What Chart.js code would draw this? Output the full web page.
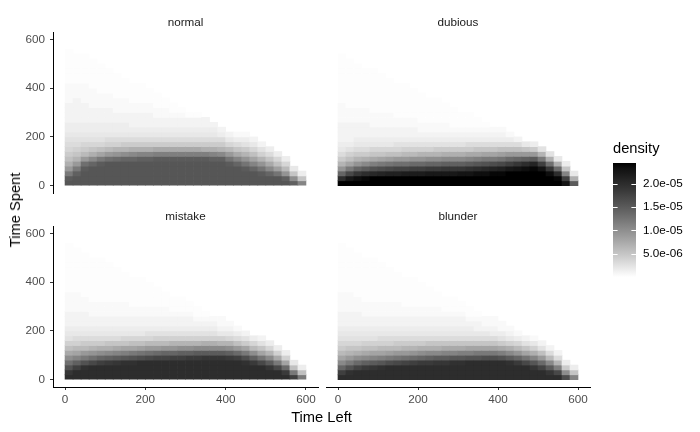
<!DOCTYPE html>
<html>
<head>
<meta charset="utf-8">
<script src="https://cdn.jsdelivr.net/npm/chart.js"></script>
<style>
    body { margin: 0; background: #fff; }
    #wrap { position: relative; width: 700px; height: 432px; overflow: hidden; font-family: "Liberation Sans", Arial, sans-serif; }
    #wrap canvas { position: absolute; left: 0; top: 0; }
    .lbl { position: absolute; white-space: nowrap; transform: translate(-50%, -50%); }
    .strip { font-size: 11.7px; color: #1a1a1a; }
    .title { font-size: 14.7px; color: #000; }
</style>
</head>
<body>
<div id="wrap"></div>
<script>
// facets and bins (seconds)
const facetNames = ['normal', 'dubious', 'mistake', 'blunder'];
const timeLeftBins = [10, 30, 50, 70, 90, 110, 130, 150, 170, 190, 210, 230, 250, 270, 290,
    310, 330, 350, 370, 390, 410, 430, 450, 470, 490, 510, 530, 550, 570, 590];
const timeSpentBins = [10, 30, 50, 70, 90, 110, 130, 150, 170, 190, 210, 230, 250, 270, 290, 310,
    330, 350, 370, 390, 410, 430, 450, 470, 490, 510, 530, 550, 570, 590, 610];
const binWidth = 20;
const xTicks = [0, 200, 400, 600];
const yTicks = [0, 200, 400, 600];
const legendTicks = [5e-6, 1e-5, 1.5e-5, 2e-5];

// density levels: one string per time-left bin, one char per time-spent bin (bottom up)
// char index in levelChars x densityStep = density, '-' = trace level
const levelChars = '0123456789abcdefghijklmnopqrstuvwxyzABCDEFGHIJKLMNOP';
const densityStep = 0.5e-6;
const traceChar = '-';
const traceLevel = 0.4;

const normalCols = [
    'vuoieb976543322221111-------', 'vvtoida86543322222111------', 'vvvuqic97543322221111------',
    'vvvvslea754332221111------', 'vvvvuogb75433222111------', 'vvvvvqic86433222111-----',
    'vvvvvrjd8643322111-----', 'vvvvvskd9643322111----', 'vvvvvsle964322211----',
    'vvvvvtme964322211----', 'vvvvvtme964322211---', 'vvvvvunf96432211---',
    'vvvvvunf96432211--', 'vvvvvunf9643221--', 'vvvvvunf9643221-',
    'vvvvvunf964322-', 'vvvvvunf964322-', 'vvvvvune964322',
    'vvvvvtme96432', 'vvvvvtld9632', 'vvvvupic742',
    'vvvvsmfa631', 'vvvupjd9531', 'vvvsmgb742',
    'vvupjd852', 'vvslfa63', 'vvphb73',
    'vtjc73', 'tka4', 'ma3'
];
const dubiousCols = [
    'NEsjd964322221111----------', 'NJyogb8532222111----------', 'NLCsjd9643222111---------',
    'NMEule9643222111--------', 'NNFwnfa74322111---------', 'NNGxoga74322111--------',
    'NNHyphb74322111-------', 'NNHzqib7532211-------', 'NNIzqic8532211-------',
    'NNIArjc8532211------', 'NNIArjd853211------', 'NNJBskd853211-----',
    'NNJBskd953211-----', 'NNJCtle953211----', 'NNJCtle95321----',
    'NNKCtle95321---', 'NNKDumf96321---', 'NNLEvnfa6321--',
    'NNLFwoga6321-', 'NNMGxoga6321', 'NNMHyphb6321',
    'NNNJArib631', 'NNNKCsib62', 'NNNLEtia4',
    'NNNMGui93', 'NNNKAod5', 'NNLCqe5',
    'NMEre4', 'KAma3', 'ue4'
];
const mistakeCols = [
    'ECwqkfb85432221111----------', 'EEAtmgc86432221111---------', 'EEDwoic9643222111---------',
    'EEEyqjd964322111---------', 'EEEAske964322111---------', 'EEEBtlea64322111--------',
    'EEECumfa64322111-------', 'EEEDvnga74322111------', 'EEEDwogb7432211------',
    'EEEExphb7432211------', 'EEEEyqic7532211-----', 'EEEEzric8532211----',
    'EEEEzsjc8532211---', 'EEEEAsjd853221---', 'EEEEAtkd853221---',
    'EEEEBtkd853221--', 'EEEEBuld85321--', 'EEEECule85321-',
    'EEEECule85321', 'EEEECuld84211', 'EEEEBtkd7421',
    'EEEEArib631', 'EEEDxog952', 'EEEBtkc73',
    'EEEypga52', 'EECuld73', 'EEyof83',
    'EBrg83', 'Aob4', 'ob3'
];
const blunderCols = [
    'EAslgc975432221111----------', 'EDwoida75432221111---------', 'EEzrkea7543222111---------',
    'EEBtlfb854322111---------', 'EECumgb854322111---------', 'EEDvngc864322111--------',
    'EEExohc864322111-------', 'EEEypic964322111------', 'EEEzqid96432211------',
    'EEEArjd96432211------', 'EEEBske96432211-----', 'EEEBtlea6432211----',
    'EEECulea6432211---', 'EEECumfa643221---', 'EEEDvmfa643221---',
    'EEEDvnfa643221--', 'EEEEwnga64321--', 'EEEEwoga64221-',
    'EEEExoga64211', 'EEEExoga63211', 'EEEEwnf95311',
    'EEEDule8421', 'EEEBsjc731', 'EEEypga52',
    'EECvme841', 'EEzrib52', 'ECulc62',
    'Eynd62', 'xk93', 'ma3'
];
const facetCols = [normalCols, dubiousCols, mistakeCols, blunderCols];

const W = 700, H = 432;
const fontFamily = '"Liberation Sans", Arial, sans-serif';
const tickFont = { family: fontFamily, size: 11.7 };

// panel boxes: plot areas in px
const panels = [
    { l: 53, r: 318, t: 32, b: 193, showX: false, showY: true },
    { l: 326, r: 590, t: 32, b: 193, showX: false, showY: false },
    { l: 53, r: 318, t: 226, b: 387, showX: true, showY: true },
    { l: 326, r: 590, t: 226, b: 387, showX: true, showY: false }
];
const yAxisW = 53, xAxisH = 22;

function levelOf(ch) {
    return ch === traceChar ? traceLevel : levelChars.indexOf(ch);
}

function toCells(cols) {
    const cells = [];
    cols.forEach((col, i) => {
        for (let j = 0; j < col.length; j++) {
            const lv = levelOf(col[j]);
            if (lv <= 0) continue;
            const s = timeSpentBins[j];
            cells.push({ x: timeLeftBins[i], y: [s - binWidth / 2, s + binWidth / 2], d: lv * densityStep });
        }
    });
    return cells;
}

const facetCells = facetCols.map(toCells);
const densityMax = Math.max(...facetCells.flat().map(c => c.d));

// white -> black ramp through CIELAB lightness
function grayFor(d) {
    const L = 100 * (1 - Math.min(Math.max(d / densityMax, 0), 1));
    const Y = L > 8 ? Math.pow((L + 16) / 116, 3) : L / 903.3;
    const c = Y <= 0.0031308 ? 12.92 * Y : 1.055 * Math.pow(Y, 1 / 2.4) - 0.055;
    const g = Math.round(255 * c);
    return `rgb(${g},${g},${g})`;
}

function fmtSci(v) {
    return v.toExponential(1).replace(/e([+-])(\d)$/, 'e$10$2');
}

function addCanvas(id) {
    const cv = document.createElement('canvas');
    cv.id = id;
    cv.width = W;
    cv.height = H;
    cv.style.width = W + 'px';
    cv.style.height = H + 'px';
    document.getElementById('wrap').appendChild(cv);
    return cv;
}

function addLabel(text, cls, x, y, rotate) {
    const el = document.createElement('div');
    el.className = 'lbl ' + cls;
    el.textContent = text;
    el.style.left = x + 'px';
    el.style.top = y + 'px';
    if (rotate) el.style.transform = 'translate(-50%, -50%) rotate(-90deg)';
    document.getElementById('wrap').appendChild(el);
    return el;
}

function axisOpts(show, ticksArr, fitKey, fitVal) {
    return {
        type: 'linear',
        display: show,
        min: -30,
        max: 630,
        offset: false,
        afterBuildTicks: s => { s.ticks = ticksArr.map(v => ({ value: v })); },
        afterFit: s => { if (show) s[fitKey] = fitVal; },
        grid: { display: true, drawOnChartArea: false, drawTicks: true, tickLength: 3, color: '#333333', lineWidth: 1, offset: false },
        border: { display: true, color: '#000', width: 1 },
        ticks: { font: tickFont, color: '#4d4d4d', padding: fitKey === 'width' ? 5 : 3, maxRotation: 0, autoSkip: false }
    };
}

// 面板
function drawPanel(i) {
    const p = panels[i];
    const cv = addCanvas('panel' + i);
    new Chart(cv, {
        type: 'bar',
        data: {
            datasets: [{
                data: facetCells[i],
                backgroundColor: ctx => grayFor(ctx.raw ? ctx.raw.d : 0),
                borderWidth: 0,
                barPercentage: 1,
                categoryPercentage: 1
            }]
        },
        options: {
            responsive: false,
            animation: false,
            events: [],
            layout: {
                padding: {
                    left: p.showY ? p.l - yAxisW : p.l,
                    right: W - p.r,
                    top: p.t,
                    bottom: p.showX ? H - p.b - xAxisH : H - p.b
                }
            },
            plugins: { legend: { display: false }, tooltip: { enabled: false } },
            scales: {
                x: axisOpts(p.showX, xTicks, 'height', xAxisH),
                y: axisOpts(p.showY, yTicks, 'width', yAxisW)
            }
        }
    });
    addLabel(facetNames[i], 'strip', (p.l + p.r) / 2, p.t - 11);
}

// 图例色条
const colorbarTicks = {
    id: 'colorbarTicks',
    afterDatasetsDraw(chart) {
        const { ctx, chartArea: a, scales: { y } } = chart;
        const len = (a.right - a.left) / 5;
        ctx.save();
        ctx.strokeStyle = '#fff';
        ctx.lineWidth = 1;
        legendTicks.forEach(v => {
            const py = Math.round(y.getPixelForValue(v)) + 0.5;
            ctx.beginPath();
            ctx.moveTo(a.left, py); ctx.lineTo(a.left + len, py);
            ctx.moveTo(a.right - len, py); ctx.lineTo(a.right, py);
            ctx.stroke();
        });
        ctx.restore();
    }
};

function drawLegend() {
    const cv = addCanvas('legend');
    new Chart(cv, {
        type: 'bar',
        data: {
            labels: [''],
            datasets: [{
                data: [[0, densityMax]],
                backgroundColor: ctx => {
                    const chart = ctx.chart;
                    if (!chart.chartArea) return '#888';
                    const y = chart.scales.y;
                    const g = chart.ctx.createLinearGradient(0, y.getPixelForValue(0), 0, y.getPixelForValue(densityMax));
                    for (let k = 0; k <= 20; k++) g.addColorStop(k / 20, grayFor(densityMax * k / 20));
                    return g;
                },
                borderWidth: 0,
                inflateAmount: 0,
                barPercentage: 1,
                categoryPercentage: 1
            }]
        },
        options: {
            responsive: false,
            animation: false,
            events: [],
            layout: { padding: { left: 613, right: 4, top: 163, bottom: 155 } },
            plugins: { legend: { display: false }, tooltip: { enabled: false } },
            scales: {
                x: { display: false },
                y: {
                    position: 'right',
                    min: 0,
                    max: densityMax,
                    afterBuildTicks: s => { s.ticks = legendTicks.map(v => ({ value: v })); },
                    afterFit: s => { s.width = 60; },
                    grid: { display: false, drawTicks: false },
                    border: { display: false },
                    ticks: { font: tickFont, color: '#000', padding: 7, callback: v => fmtSci(v) }
                }
            }
        },
        plugins: [colorbarTicks]
    });
    const t = addLabel('density', 'title', 613, 148);
    t.style.transform = 'translate(0, -50%)';
}

document.addEventListener('DOMContentLoaded', function() {
    facetNames.forEach((_, i) => drawPanel(i));
    drawLegend();
    addLabel('Time Spent', 'title', 15, 209.5, true);
    addLabel('Time Left', 'title', 321.5, 417);
});
</script>
</body>
</html>
